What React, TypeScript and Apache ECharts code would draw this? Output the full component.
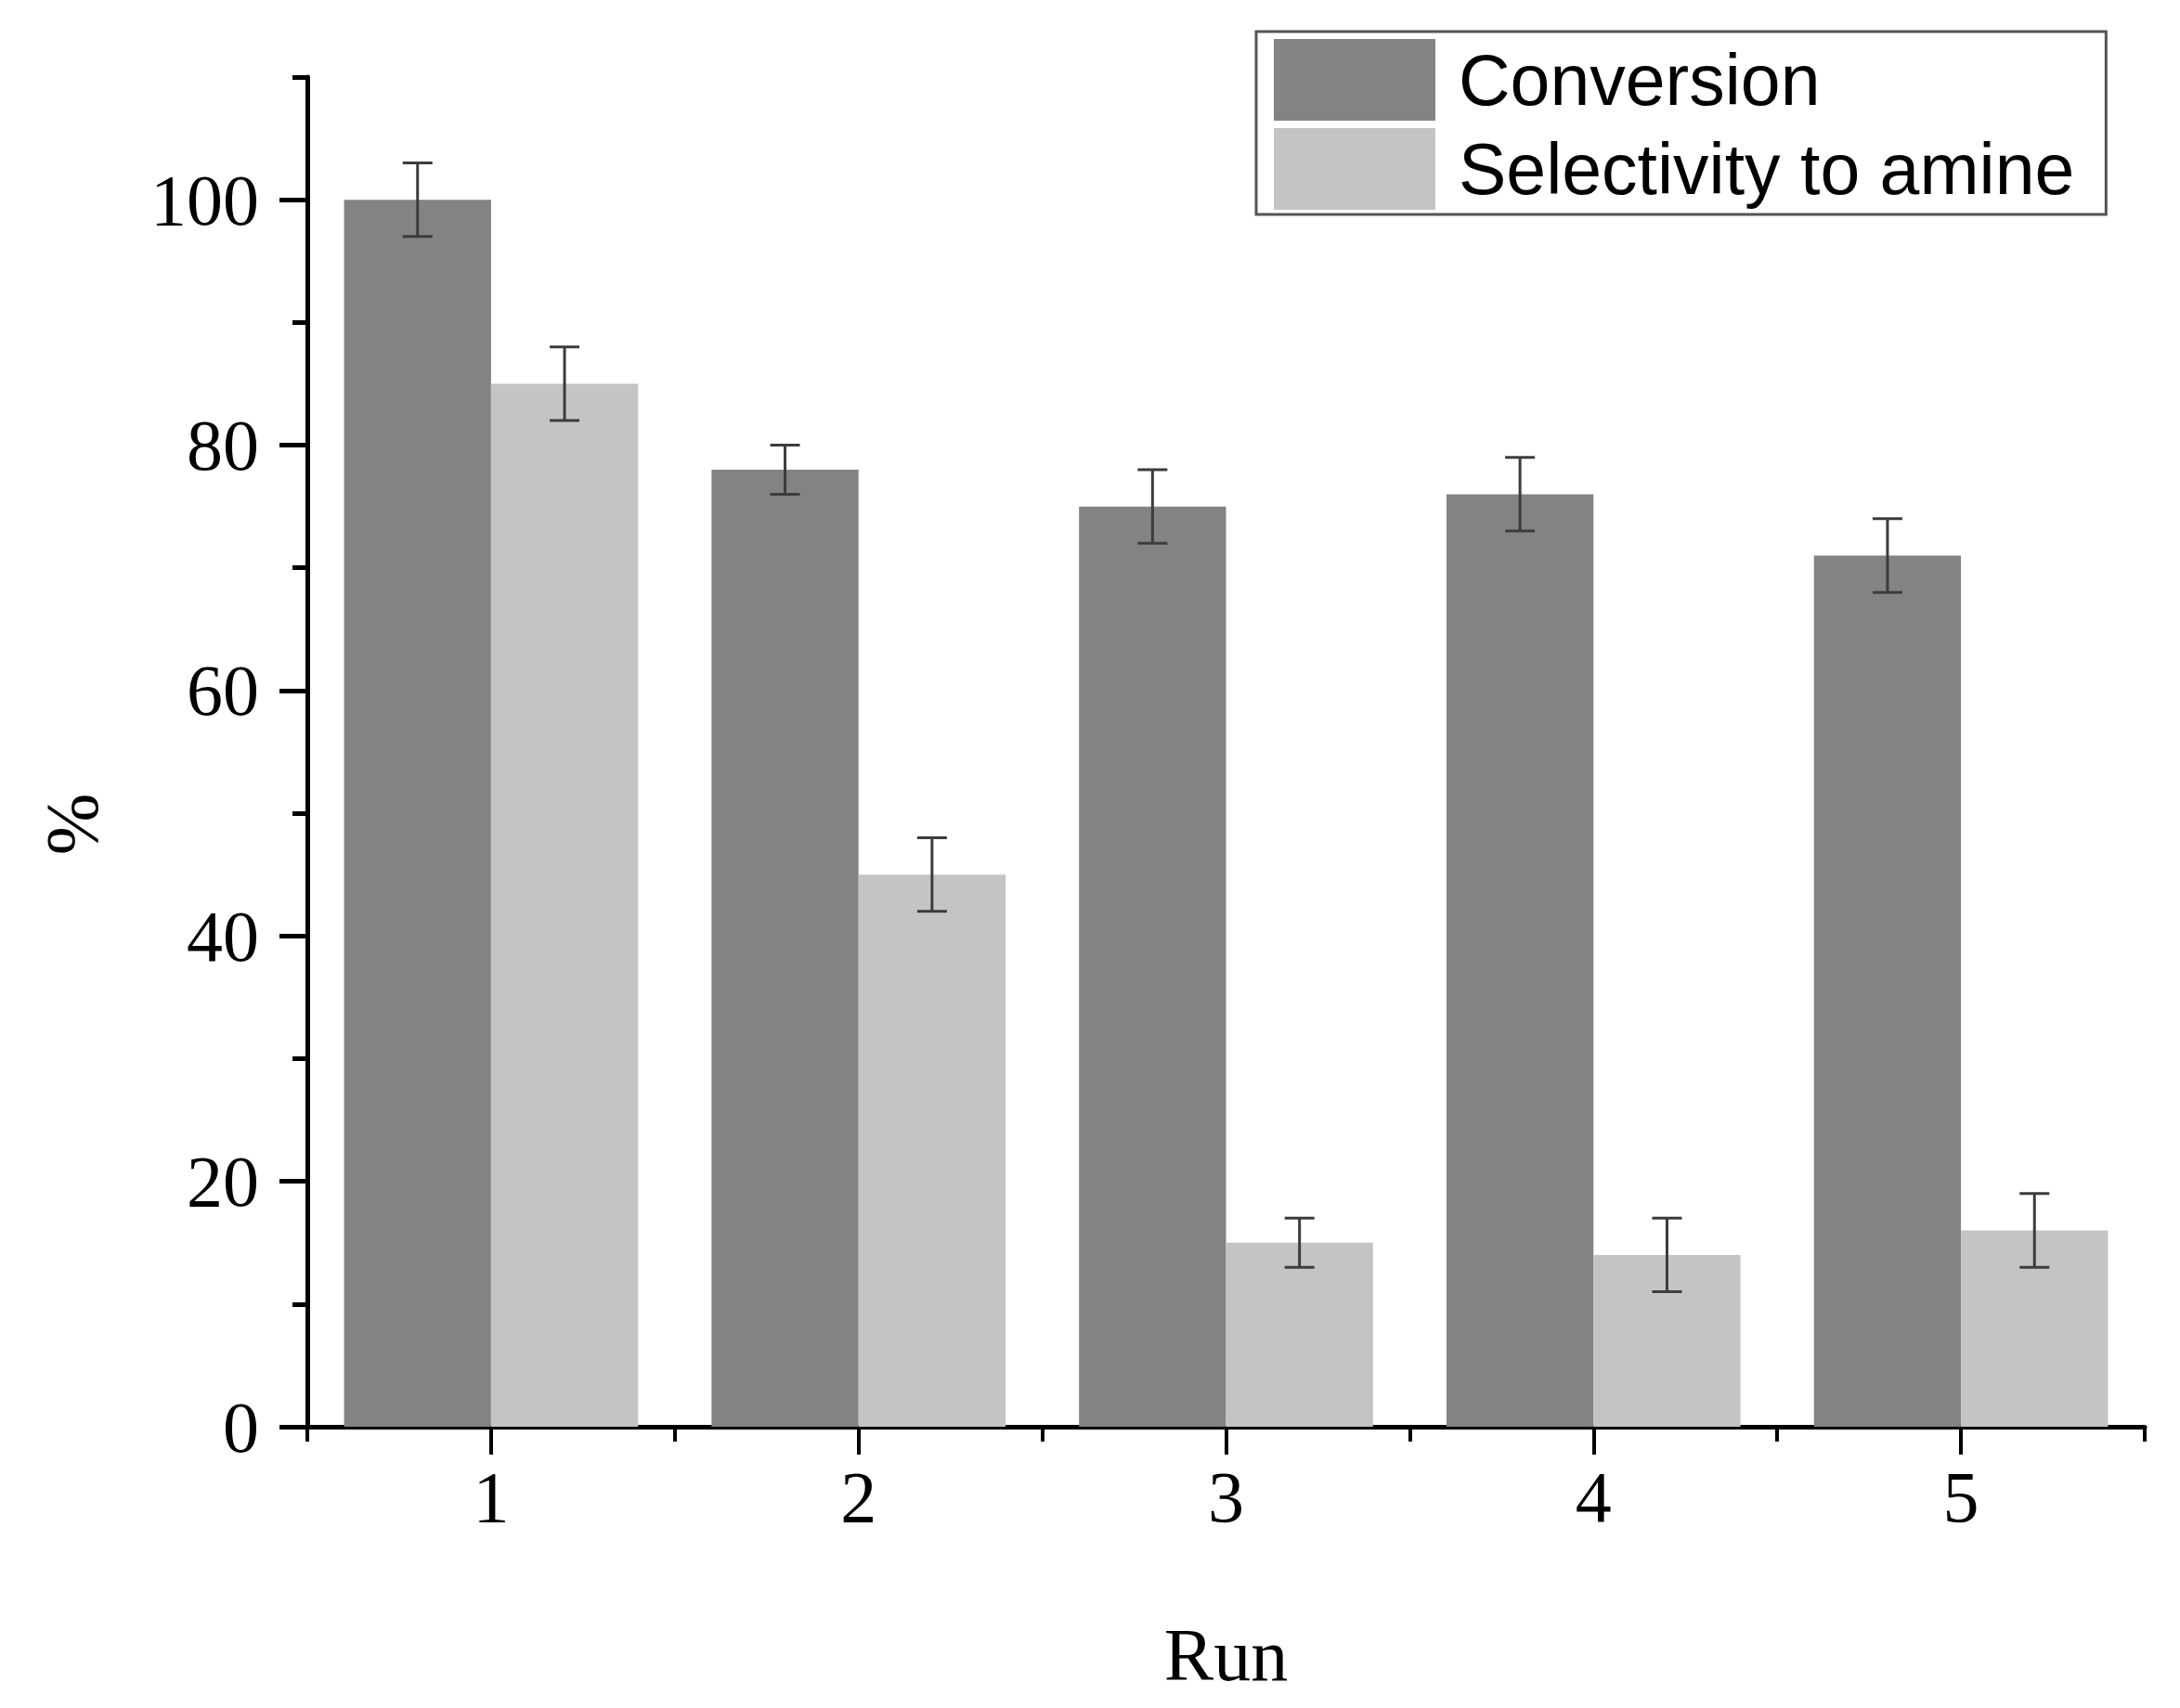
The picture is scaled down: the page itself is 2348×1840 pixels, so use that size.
import React, { useEffect, useRef } from "react";
import * as echarts from "echarts";

const runs = ["1", "2", "3", "4", "5"];
const conversion = [100, 78, 75, 76, 71];
const conversionErr = [3, 2, 3, 3, 3];
const selectivity = [85, 45, 15, 14, 16];
const selectivityErr = [3, 3, 2, 3, 3];
const yMajorTicks = [0, 20, 40, 60, 80, 100];
const yMinorTicks = [10, 30, 50, 70, 90, 110];
const yMax = 110;

const SERIF = "'Liberation Serif', 'Times New Roman', serif";
const SANS = "'Liberation Sans', Arial, sans-serif";

function errorSeries(name: string, values: number[], errs: number[], side: number) {
  return {
    type: "custom",
    name,
    xAxisIndex: 0,
    yAxisIndex: 0,
    z: 10,
    silent: true,
    data: values.map((v, i) => [i, v - errs[i], v + errs[i]]),
    encode: { x: 0, y: [1, 2] },
    renderItem: (params: any, api: any) => {
      const idx = api.value(0);
      const lo = api.coord([idx, api.value(1)]);
      const hi = api.coord([idx, api.value(2)]);
      const band = api.size([1, 0])[0];
      const x = lo[0] + side * band * 0.2;
      const cap = 16;
      const style = { stroke: "#3c3c3c", lineWidth: 3 };
      return {
        type: "group",
        children: [
          { type: "line", shape: { x1: x, y1: lo[1], x2: x, y2: hi[1] }, style },
          { type: "line", shape: { x1: x - cap, y1: lo[1], x2: x + cap, y2: lo[1] }, style },
          { type: "line", shape: { x1: x - cap, y1: hi[1], x2: x + cap, y2: hi[1] }, style },
        ],
      };
    },
  };
}

export default function App() {
  const ref = useRef<HTMLDivElement>(null);
  useEffect(() => {
    if (!ref.current) return;
    const chart = echarts.init(ref.current, null, { renderer: "svg" });
    chart.setOption({
      animation: false,
      backgroundColor: "#ffffff",
      grid: { left: 331, right: 38, top: 83, bottom: 303, containLabel: false },
      legend: {
        data: ["Conversion", "Selectivity to amine"],
        orient: "vertical",
        left: 1353,
        top: 34,
        itemWidth: 174,
        itemHeight: 88,
        itemGap: 8,
        padding: [8, 34, 5, 19],
        borderColor: "#555555",
        borderWidth: 3,
        icon: "rect",
        selectedMode: false,
        textStyle: { fontFamily: SANS, fontSize: 77, color: "#000", padding: [0, 0, 0, 20] },
      },
      xAxis: [
        {
          type: "category",
          data: runs,
          position: "bottom",
          axisLine: { show: true, lineStyle: { color: "#000", width: 5 } },
          axisTick: { show: true, alignWithLabel: true, length: 30, lineStyle: { color: "#000", width: 4 } },
          axisLabel: { fontFamily: SERIF, fontSize: 78, color: "#000", margin: 36 },
          name: "Run",
          nameLocation: "middle",
          nameGap: 206,
          nameTextStyle: { fontFamily: SERIF, fontSize: 80, color: "#000" },
          splitLine: { show: false },
        },
        {
          type: "category",
          data: runs,
          position: "bottom",
          axisLine: { show: false },
          axisTick: { show: true, length: 16, lineStyle: { color: "#000", width: 4 } },
          axisLabel: { show: false },
          splitLine: { show: false },
        },
      ],
      yAxis: [
        {
          type: "value",
          min: 0,
          max: yMax,
          position: "left",
          axisLine: { show: true, lineStyle: { color: "#000", width: 5 } },
          axisTick: { show: true, length: 30, customValues: yMajorTicks, lineStyle: { color: "#000", width: 5 } },
          axisLabel: { fontFamily: SERIF, fontSize: 78, color: "#000", margin: 52, customValues: yMajorTicks },
          splitLine: { show: false },
          name: "%",
          nameLocation: "middle",
          nameGap: 213,
          nameTextStyle: { fontFamily: SERIF, fontSize: 80, color: "#000", padding: [0, 156, 0, 0] },
        },
        {
          type: "value",
          min: 0,
          max: yMax,
          position: "left",
          axisLine: { show: false },
          axisTick: { show: true, length: 16, customValues: yMinorTicks, lineStyle: { color: "#000", width: 5 } },
          axisLabel: { show: false },
          splitLine: { show: false },
        },
      ],
      series: [
        {
          type: "bar",
          name: "Conversion",
          data: conversion,
          itemStyle: { color: "#838383" },
          barGap: "0%",
          barCategoryGap: "20%",
        },
        {
          type: "bar",
          name: "Selectivity to amine",
          data: selectivity,
          itemStyle: { color: "#c4c4c4" },
          barGap: "0%",
          barCategoryGap: "20%",
        },
        errorSeries("convErr", conversion, conversionErr, -1),
        errorSeries("selErr", selectivity, selectivityErr, 1),
      ],
    });
    return () => chart.dispose();
  }, []);
  return (
    <div
      ref={ref}
      style={{ position: "fixed", left: 0, top: 0, width: 2348, height: 1840, background: "#fff" }}
    />
  );
}
